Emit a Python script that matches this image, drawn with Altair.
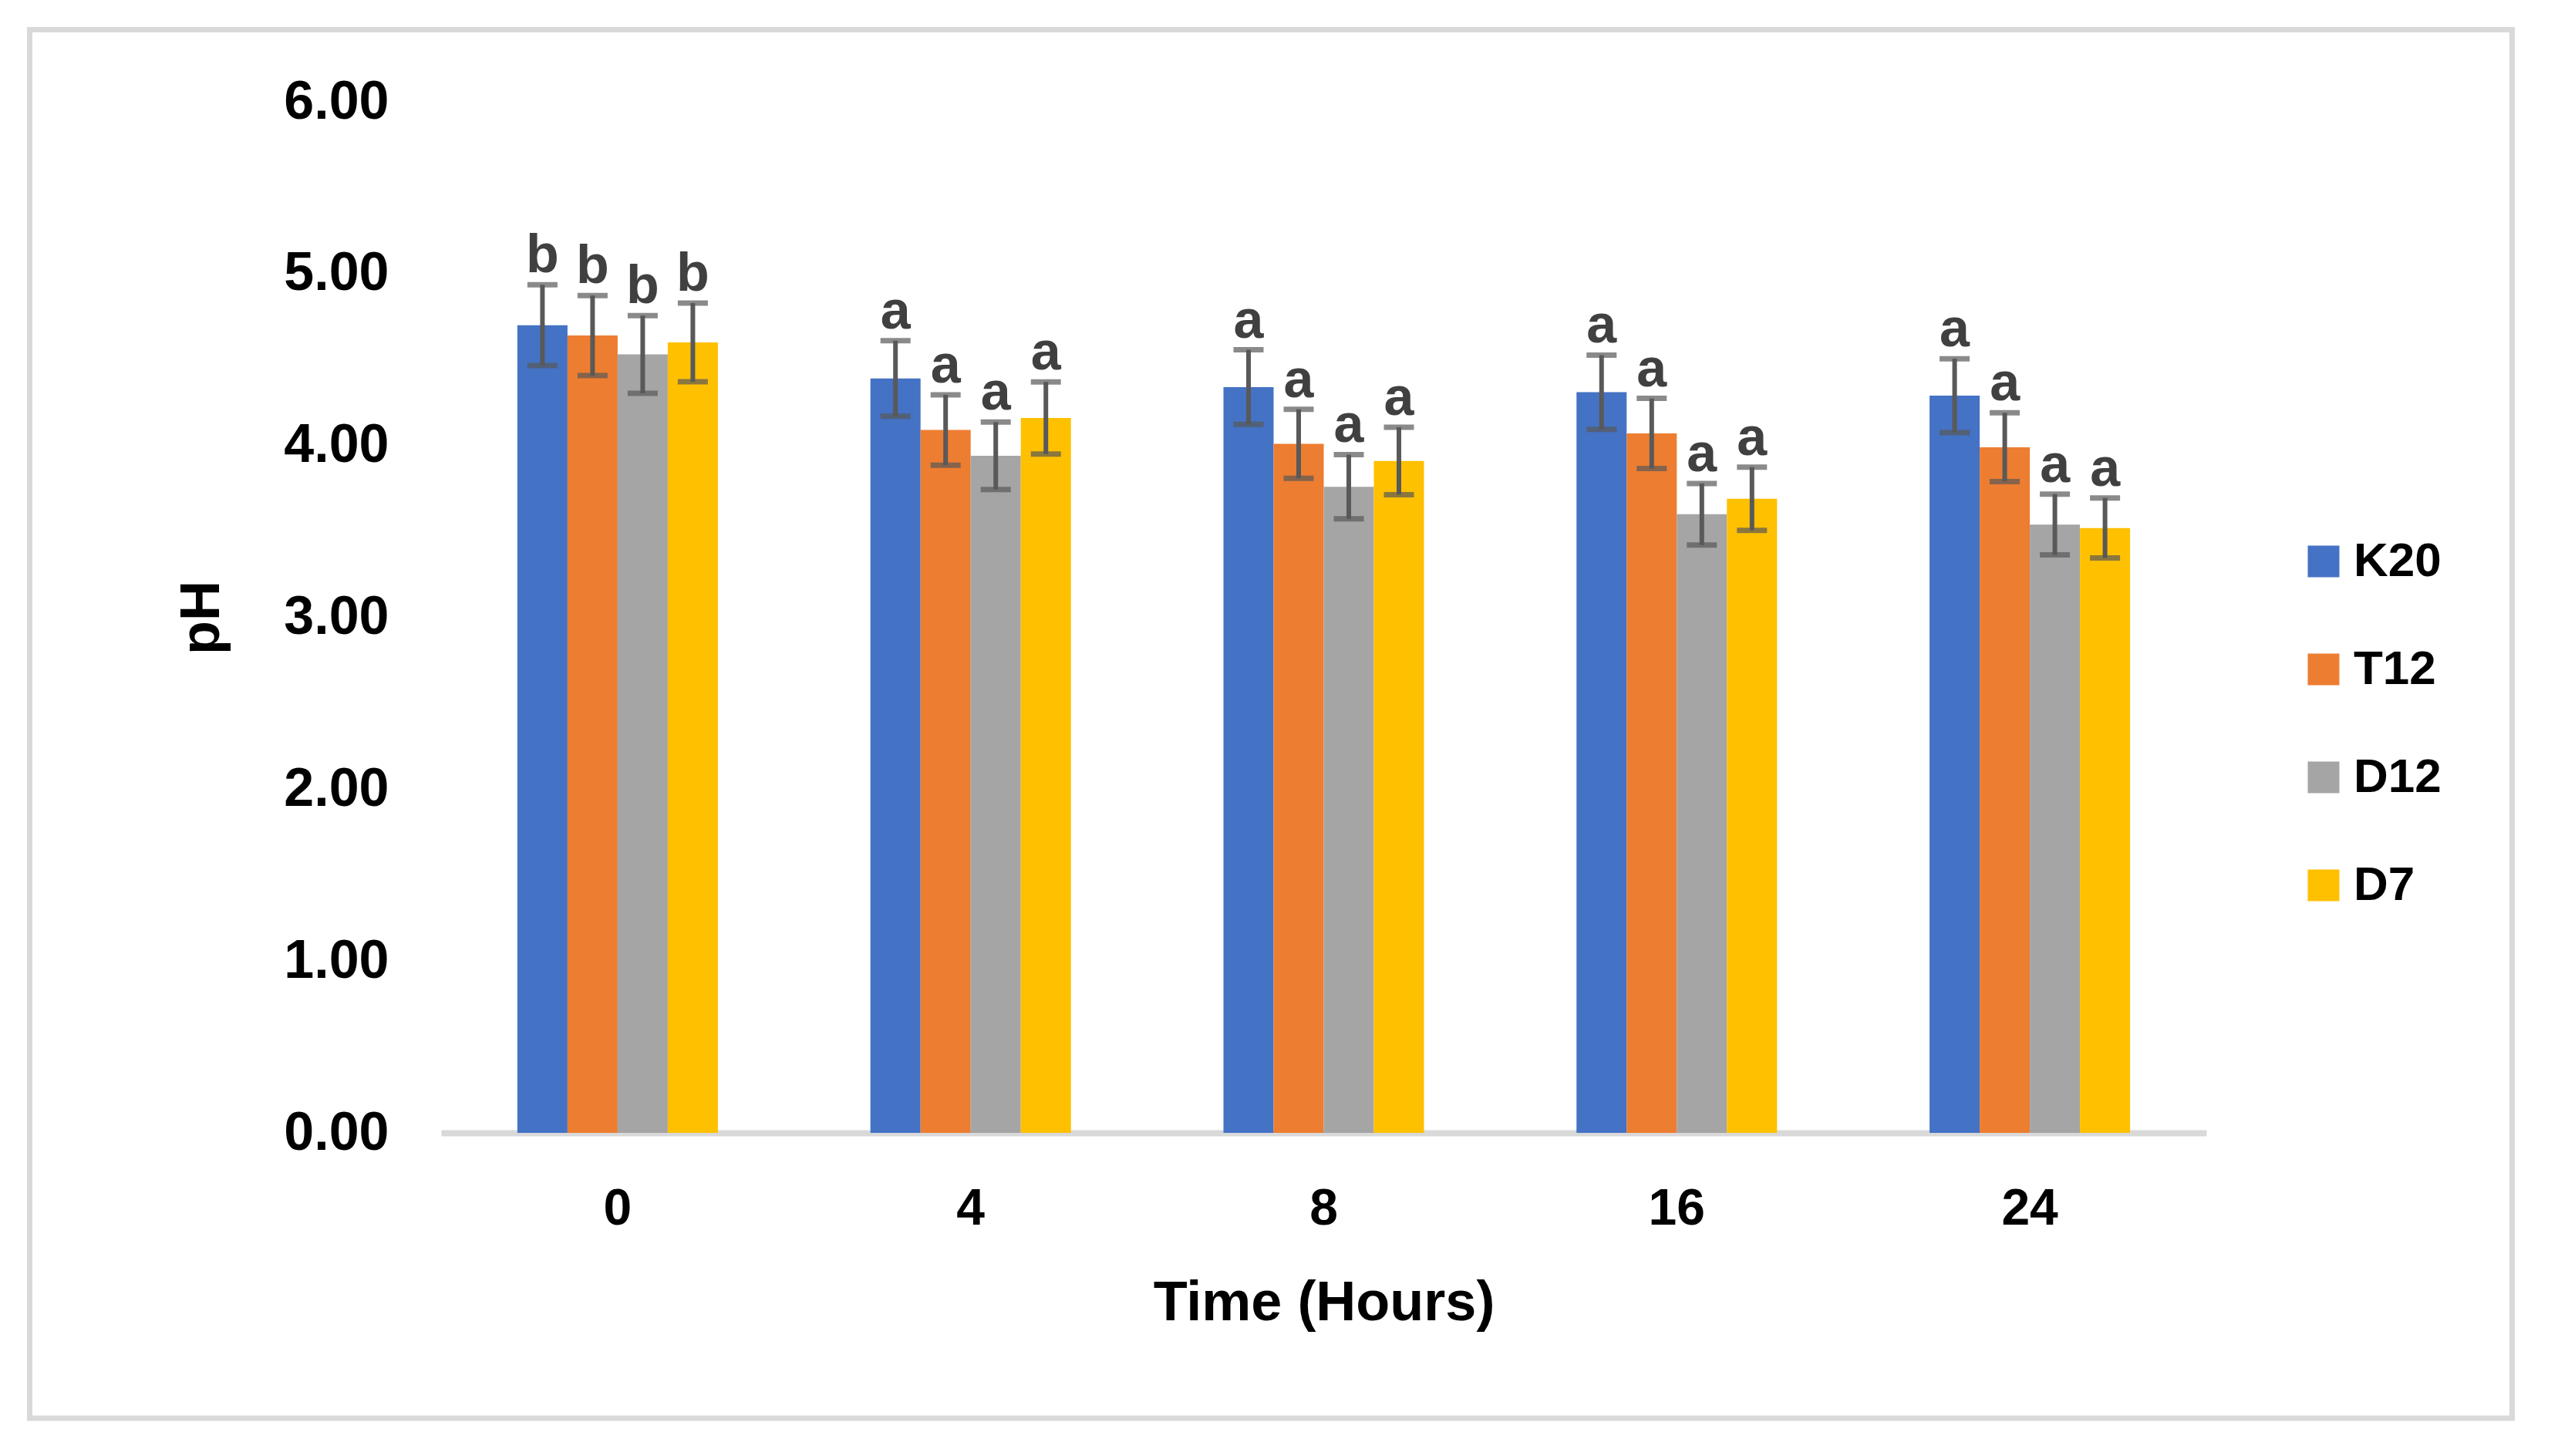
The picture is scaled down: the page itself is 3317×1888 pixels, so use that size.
import altair as alt
import pandas as pd

times = ["0", "4", "8", "16", "24"]
series = ["K20", "T12", "D12", "D7"]
colors = ["#4472C4", "#ED7D31", "#A5A5A5", "#FFC000"]

k20_mean = [4.70, 4.39, 4.34, 4.31, 4.29]
t12_mean = [4.64, 4.09, 4.01, 4.07, 3.99]
d12_mean = [4.53, 3.94, 3.76, 3.60, 3.54]
d7_mean = [4.60, 4.16, 3.91, 3.69, 3.52]

k20_err = [0.235, 0.220, 0.217, 0.216, 0.215]
t12_err = [0.233, 0.205, 0.201, 0.204, 0.200]
d12_err = [0.226, 0.196, 0.187, 0.179, 0.177]
d7_err = [0.229, 0.210, 0.196, 0.184, 0.175]

letters = ["b", "a", "a", "a", "a"]

means = {"K20": k20_mean, "T12": t12_mean, "D12": d12_mean, "D7": d7_mean}
errs = {"K20": k20_err, "T12": t12_err, "D12": d12_err, "D7": d7_err}

rows = []
for s in series:
    for i, t in enumerate(times):
        m = means[s][i]
        e = errs[s][i]
        rows.append({"Time": t, "Series": s, "pH": m, "lo": m - e, "hi": m + e, "letter": letters[i]})
df = pd.DataFrame(rows)

FONT = "Liberation Sans"

x_enc = alt.X("Time:N", sort=times,
              scale=alt.Scale(paddingInner=0.432, paddingOuter=0.216),
              axis=alt.Axis(title="Time (Hours)", labelAngle=0, labelFontSize=66, labelFont=FONT,
                            labelFontWeight="bold", labelColor="#000000", labelPadding=66,
                            ticks=False, tickSize=0, domainColor="#D9D9D9", domainWidth=8,
                            titleFontSize=72, titleFont=FONT, titleFontWeight="bold",
                            titleColor="#000000", titlePadding=54))
xo_enc = alt.XOffset("Series:N", sort=series, scale=alt.Scale(paddingInner=0, paddingOuter=0))

base = alt.Chart(df)

bars = base.mark_bar().encode(
    x=x_enc,
    xOffset=xo_enc,
    y=alt.Y("pH:Q", scale=alt.Scale(domain=[0, 6], nice=False, zero=True),
            axis=alt.Axis(title="pH", values=[0, 1, 2, 3, 4, 5, 6], format=".2f",
                          labelFontSize=70, labelFont=FONT, labelFontWeight="bold",
                          labelColor="#000000", labelPadding=68, ticks=False, tickSize=0,
                          domain=False, grid=False,
                          titleFontSize=72, titleFont=FONT, titleFontWeight="bold",
                          titleColor="#000000", titlePadding=74)),
    color=alt.Color("Series:N", sort=series, scale=alt.Scale(domain=series, range=colors),
                    legend=alt.Legend(title=None, orient="none", legendX=2410, legendY=565,
                                      symbolType="square", symbolSize=1681, symbolStrokeWidth=0,
                                      labelFontSize=62, labelFont=FONT, labelFontWeight="bold",
                                      labelColor="#000000", labelOffset=8, rowPadding=78,
                                      padding=0)),
)

rule = base.mark_rule(color="#595959", strokeWidth=6).encode(
    x=alt.X("Time:N", sort=times), xOffset=xo_enc, y="lo:Q", y2="hi:Q")
cap_lo = base.mark_tick(color="#595959", thickness=7, size=39).encode(
    x=alt.X("Time:N", sort=times), xOffset=xo_enc, y="lo:Q")
cap_hi = base.mark_tick(color="#595959", thickness=7, size=39).encode(
    x=alt.X("Time:N", sort=times), xOffset=xo_enc, y="hi:Q")
labels = base.mark_text(font=FONT, fontWeight="bold", fontSize=70, color="#404040",
                        baseline="bottom", dy=-1).encode(
    x=alt.X("Time:N", sort=times), xOffset=xo_enc, y="hi:Q", text="letter:N")

frame = alt.Chart(pd.DataFrame({"f": [0]})).mark_rect(
    fill=None, stroke="#D9D9D9", strokeWidth=7).encode(
    x=alt.value(-533.5), x2=alt.value(2685.5), y=alt.value(-93.5), y2=alt.value(1707))

chart = alt.layer(frame, bars, rule, cap_lo, cap_hi, labels).properties(
    width=2289, height=1337,
    autosize=alt.AutoSizeParams(type="none"),
    padding={"left": 564, "top": 124, "right": 448, "bottom": 411},
    background="#FFFFFF",
).configure_view(stroke=None)

chart.save("out.html", embed_options={"renderer": "svg", "actions": False})
